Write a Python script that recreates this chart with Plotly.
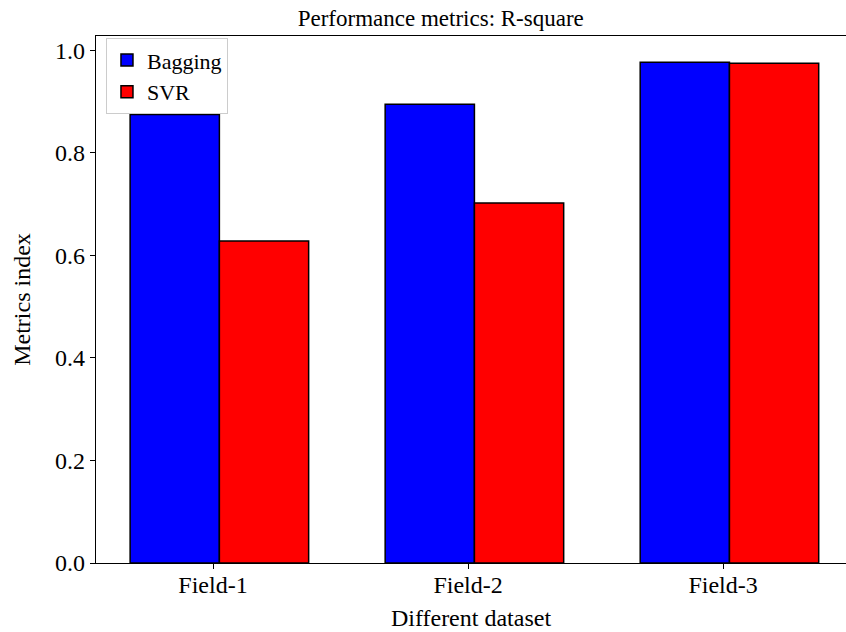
import plotly.graph_objects as go

categories = ["Field-1", "Field-2", "Field-3"]
positions = [1, 2, 3]
bagging = [0.875, 0.895, 0.977]
svr = [0.628, 0.702, 0.975]
y_ticks = [0.0, 0.2, 0.4, 0.6, 0.8, 1.0]

FONT = "Liberation Serif"
bar_w = 0.35

fig = go.Figure()
fig.add_trace(go.Bar(
    x=positions, y=bagging, name="Bagging",
    width=bar_w, offset=-0.325,
    marker=dict(color="#0000ff", line=dict(color="black", width=1.5)),
))
fig.add_trace(go.Bar(
    x=positions, y=svr, name="SVR",
    width=bar_w, offset=0.025,
    marker=dict(color="#ff0000", line=dict(color="black", width=1.5)),
))

fig.update_layout(
    width=846, height=632,
    margin=dict(l=96, r=0, t=36, b=69),
    paper_bgcolor="white", plot_bgcolor="white",
    barmode="overlay",
    font=dict(family=FONT, size=24, color="black"),
    title=dict(text="Performance metrics: R-square", xref="container", x=0.521,
               y=1 - 18 / 632, yanchor="middle", xanchor="center",
               font=dict(family=FONT, size=23, color="black")),
    showlegend=True,
    legend=dict(x=0.0133, y=0.9957, xanchor="left", yanchor="top",
                bgcolor="rgba(255,255,255,0.8)", bordercolor="#cccccc", borderwidth=1,
                font=dict(family=FONT, size=22, color="black"),
                tracegroupgap=0, itemwidth=30),
    xaxis=dict(
        range=[0.5412, 3.482], tickmode="array", tickvals=positions, ticktext=categories,
        showgrid=False, zeroline=False, showline=True, linecolor="black", linewidth=1.2,
        mirror=True, ticks="outside", ticklen=5, tickcolor="black",
        ticklabelstandoff=-5,
        tickfont=dict(family=FONT, size=24),
        title=dict(text="Different dataset", standoff=12, font=dict(family=FONT, size=24)),
    ),
    yaxis=dict(
        range=[0, 1.028], tickmode="array", tickvals=y_ticks,
        ticktext=[f"{v:.1f}" for v in y_ticks],
        showgrid=False, zeroline=False, showline=True, linecolor="black", linewidth=1.2,
        ticks="outside", ticklen=5, tickcolor="black",
        tickfont=dict(family=FONT, size=24),
        title=dict(text="Metrics index", standoff=17, font=dict(family=FONT, size=24)),
    ),
)

fig.write_html("out.html", config={"displayModeBar": False},
               post_script="document.body.style.margin='0px';")
